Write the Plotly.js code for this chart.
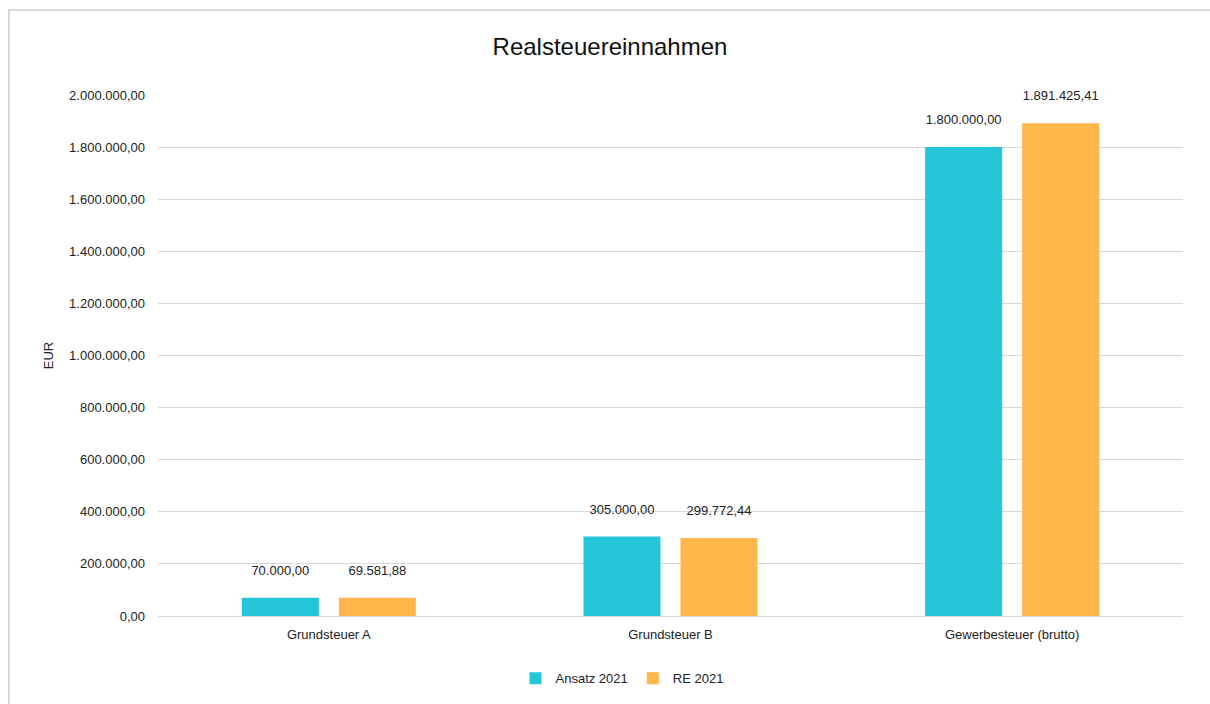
<!DOCTYPE html>
<html><head><meta charset="utf-8">
<script src="https://cdn.plot.ly/plotly-3.0.1.min.js"></script>
<style>
html,body{margin:0;padding:0;overflow:hidden;background:#fff;}
#chart{position:absolute;left:8px;top:9px;width:1202px;height:695px;border-left:2px solid #d9d9d9;border-top:2px solid #d9d9d9;box-sizing:border-box;}
</style></head>
<body><div id="chart"></div>
<script>
const categories = ["Grundsteuer A", "Grundsteuer B", "Gewerbesteuer (brutto)"];
const ansatz2021 = [70000.00, 305000.00, 1800000.00];
const re2021 = [69581.88, 299772.44, 1891425.41];
const seriesNames = ["Ansatz 2021", "RE 2021"];
const yTicks = [0, 200000, 400000, 600000, 800000, 1000000, 1200000, 1400000, 1600000, 1800000, 2000000];

const font = "Liberation Sans, Arial, sans-serif";
const common = {
  type: "bar", x: categories, textposition: "outside", cliponaxis: false,
  texttemplate: "%{y:,.2f}<br>&nbsp;", textfont: {size: 13, color: "#222", family: font},
  hoverinfo: "x+y"
};
const data = [
  Object.assign({}, common, {y: ansatz2021, name: seriesNames[0], marker: {color: "#26C6DA"}}),
  Object.assign({}, common, {y: re2021, name: seriesNames[1], marker: {color: "#FFB74D"}})
];
const layout = {
  width: 1200, height: 693,
  margin: {l: 148, r: 27, t: 84, b: 88},
  separators: ",.",
  font: {family: font, color: "#222"},
  paper_bgcolor: "#fff", plot_bgcolor: "#fff",
  title: {text: "Realsteuereinnahmen", font: {size: 24, color: "#111", family: font}, x: 0.5, xanchor: "center", y: 0.948, yanchor: "middle", xref: "container", yref: "container"},
  barmode: "group", bargap: 0.432, bargroupgap: 0.206,
  xaxis: {type: "category", showgrid: false, showline: true, linecolor: "#d9d9d9", linewidth: 1, ticks: "", tickfont: {size: 13, family: font, color: "#222"}, ticklabelstandoff: 6},
  yaxis: {range: [0, 2000000], tickvals: yTicks, tickformat: ",.2f", showgrid: true, gridcolor: "#d9d9d9", gridwidth: 1, zeroline: false, showline: false, ticks: "", tickfont: {size: 13, family: font, color: "#222"}, ticklabelstandoff: 12,
    title: {text: "EUR", font: {size: 13, family: font, color: "#222"}, standoff: 12}},
  showlegend: true,
  legend: {orientation: "h", xref: "container", yref: "container", x: 0.51, xanchor: "center", y: 0.037, yanchor: "middle", font: {size: 13, family: font, color: "#222"}, itemwidth: 30, traceorder: "normal"}
};
Plotly.newPlot("chart", data, layout, {displayModeBar: false, staticPlot: true});
</script></body></html>
